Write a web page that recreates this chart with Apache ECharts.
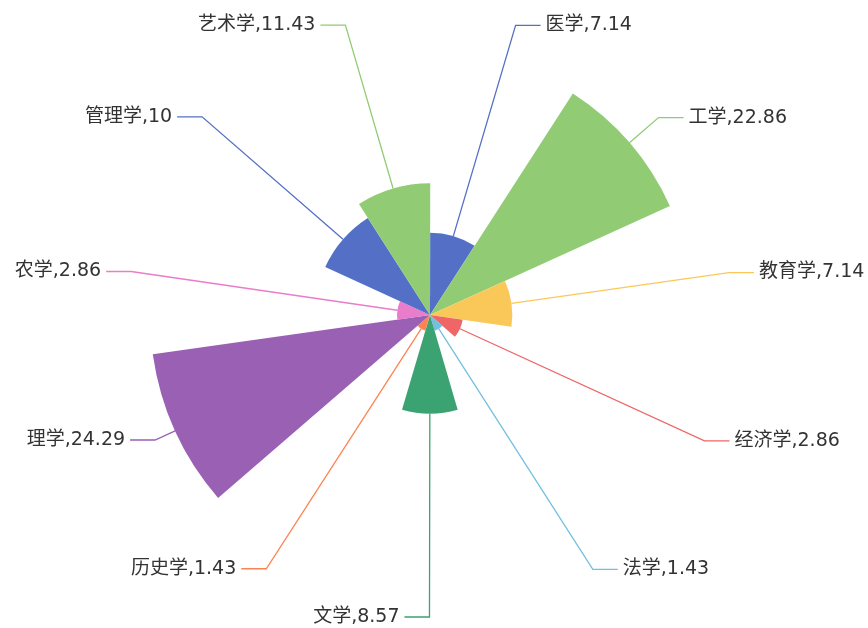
<!DOCTYPE html>
<html>
<head>
<meta charset="utf-8">
<script src="https://cdn.jsdelivr.net/npm/echarts@6/dist/echarts.min.js"></script>
<style>
html,body{margin:0;padding:0;background:#fff;}
#main{width:868px;height:628px;}
</style>
</head>
<body>
<div id="main"></div>
<script>
const categories = ['医学','工学','教育学','经济学','法学','文学','历史学','理学','农学','管理学','艺术学'];
const values = [7.14, 22.86, 7.14, 2.86, 1.43, 8.57, 1.43, 24.29, 2.86, 10, 11.43];
const palette = ['#5470c6','#91cc75','#fac858','#ee6666','#73c0de','#3ba272','#fc8452','#9a60b4','#ea7ccc'];

const chart = echarts.init(document.getElementById('main'));
chart.setOption({
  animation: false,
  color: palette,
  series: [{
    type: 'pie',
    roseType: 'area',
    center: [430, 315],
    radius: [0, 280],
    startAngle: 89.9,
    label: {
      formatter: '{b},{c}',
      fontSize: 19,
      fontFamily: 'DejaVu Sans, Noto Sans CJK SC, sans-serif',
      color: '#333',
      overflow: 'none'
    },
    labelLine: {
      length: 22,
      length2: 25,
      lineStyle: { width: 1.3 }
    },
    data: categories.map((c, i) => ({ name: c, value: values[i] }))
  }]
});
</script>
</body>
</html>
